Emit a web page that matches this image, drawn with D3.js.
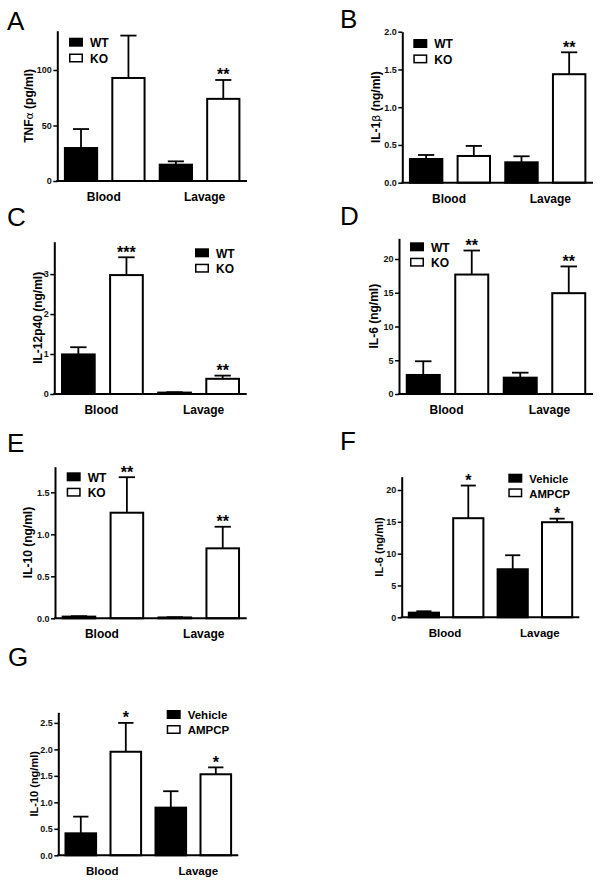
<!DOCTYPE html>
<html><head><meta charset="utf-8">
<script src="https://cdn.jsdelivr.net/npm/d3@7"></script>
<style>
body{margin:0;background:#fff;}
svg{display:block;font-family:"Liberation Sans",Arial,Helvetica,sans-serif;}
</style></head><body>
<svg id="c" width="602" height="885"></svg>
<script>
// ---------- data ----------
const groups = ["Blood", "Lavage"];
const genotypes = ["WT", "KO"];
const treatments = ["Vehicle", "AMPCP"];

// A: TNFα (pg/ml)
const tnfWT = [29.7, 14.7], tnfWTsem = [17.1, 3.0];
const tnfKO = [92.8, 74.0], tnfKOsem = [38.2, 17.0];
const tnfStars = ["", "**"];
const ticksA = [0, 50, 100];
const yMaxA = 135.4;

// B: IL-1β (ng/ml)
const il1WT = [0.314, 0.27], il1WTsem = [0.053, 0.08];
const il1KO = [0.354, 1.437], il1KOsem = [0.133, 0.29];
const il1Stars = ["", "**"];
const ticksB = [0, 0.5, 1.0, 1.5, 2.0];
const yMaxB = 2.0;

// C: IL-12p40 (ng/ml)
const il12WT = [0.99, 0.035], il12WTsem = [0.18, 0.01];
const il12KO = [2.975, 0.38], il12KOsem = [0.445, 0.08];
const il12Stars = ["***", "**"];
const ticksC = [0, 1, 2, 3];
const yMaxC = 3.81;

// D: IL-6 (ng/ml), WT vs KO
const il6WT = [2.82, 2.42], il6WTsem = [2.03, 0.74];
const il6KO = [17.7, 14.94], il6KOsem = [3.56, 3.96];
const il6Stars = ["**", "**"];
const ticksD = [0, 5, 10, 15, 20];
const yMaxD = 23.07;

// E: IL-10 (ng/ml), WT vs KO
const il10WT = [0.02, 0.01], il10WTsem = [0.005, 0.003];
const il10KO = [1.257, 0.833], il10KOsem = [0.423, 0.257];
const il10Stars = ["**", "**"];
const ticksE = [0, 0.5, 1.0, 1.5];
const yMaxE = 1.805;

// F: IL-6 (ng/ml), Vehicle vs AMPCP
const il6Veh = [0.73, 7.55], il6VehSem = [0.22, 2.2];
const il6Amp = [15.57, 14.94], il6AmpSem = [5.13, 0.56];
const il6AmpStars = ["*", "*"];
const ticksF = [0, 5, 10, 15, 20];
const yMaxF = 22.09;

// G: IL-10 (ng/ml), Vehicle vs AMPCP
const il10Veh = [0.415, 0.9], il10VehSem = [0.315, 0.31];
const il10Amp = [1.955, 1.53], il10AmpSem = [0.545, 0.13];
const il10AmpStars = ["*", "*"];
const ticksG = [0, 0.5, 1.0, 1.5, 2.0, 2.5];
const yMaxG = 2.70;

// ---------- panel tables built from the arrays ----------
const noStars = ["", ""];
const panels = [
  {letter:"A", label:["TNF","α"," (pg/ml)"], series:genotypes, means:[tnfWT,tnfKO], sems:[tnfWTsem,tnfKOsem], stars:[noStars,tnfStars], ticks:ticksA, yMax:yMaxA, fmt:d3.format("d")},
  {letter:"B", label:["IL-1","β"," (ng/ml)"], series:genotypes, means:[il1WT,il1KO], sems:[il1WTsem,il1KOsem], stars:[noStars,il1Stars], ticks:ticksB, yMax:yMaxB, fmt:d3.format(".1f")},
  {letter:"C", label:["IL-12p40 (ng/ml)"], series:genotypes, means:[il12WT,il12KO], sems:[il12WTsem,il12KOsem], stars:[noStars,il12Stars], ticks:ticksC, yMax:yMaxC, fmt:d3.format("d")},
  {letter:"D", label:["IL-6 (ng/ml)"], series:genotypes, means:[il6WT,il6KO], sems:[il6WTsem,il6KOsem], stars:[noStars,il6Stars], ticks:ticksD, yMax:yMaxD, fmt:d3.format("d")},
  {letter:"E", label:["IL-10 (ng/ml)"], series:genotypes, means:[il10WT,il10KO], sems:[il10WTsem,il10KOsem], stars:[noStars,il10Stars], ticks:ticksE, yMax:yMaxE, fmt:d3.format(".1f")},
  {letter:"F", label:["IL-6 (ng/ml)"], series:treatments, means:[il6Veh,il6Amp], sems:[il6VehSem,il6AmpSem], stars:[noStars,il6AmpStars], ticks:ticksF, yMax:yMaxF, fmt:d3.format("d")},
  {letter:"G", label:["IL-10 (ng/ml)"], series:treatments, means:[il10Veh,il10Amp], sems:[il10VehSem,il10AmpSem], stars:[noStars,il10AmpStars], ticks:ticksG, yMax:yMaxG, fmt:d3.format(".1f")}
];

// ---------- layout (positions / sizes) ----------
const layouts = [
  {x0:57.3, x1:247,   y0:30.7,  y1:181,   lx:7,   ly:30,  leg:[69,37.7],   legRow:15.8, legFont:12,   ylx:33.3, ylFont:12, xlFont:12},
  {x0:402.3,x1:593,   y0:31.7,  y1:182.7, lx:340, ly:27.5,leg:[413.3,39],  legRow:15.4, legFont:12,   ylx:380,  ylFont:12, xlFont:12},
  {x0:54.3, x1:246.7, y0:241.7, y1:394,   lx:7,   ly:226, leg:[195,248.3], legRow:15.4, legFont:12,   ylx:41.7, ylFont:12, xlFont:12},
  {x0:399,  x1:593,   y0:238.3, y1:394,   lx:340, ly:225, leg:[410,242.3], legRow:15.4, legFont:12,   ylx:378.3,ylFont:12, xlFont:12},
  {x0:55,   x1:246.7, y0:466.7, y1:618.3, lx:7,   ly:451.5,leg:[66.7,472.3],legRow:15.4,legFont:12,   ylx:31.7, ylFont:12, xlFont:12},
  {x0:401.7,x1:579.3, y0:476.7, y1:617.3, lx:340, ly:450, leg:[508.3,473.7],legRow:14.6,legFont:11.3, ylx:383,  ylFont:11, xlFont:11.5},
  {x0:58.3, x1:238.3, y0:712.3, y1:855.3, lx:8,   ly:666, leg:[166.7,710], legRow:15,   legFont:11.5, ylx:38.3, ylFont:11, xlFont:11.5}
];
const groupLabelDx = [-1, 5];

const svg = d3.select("#c");
const fills = ["#000", "#fff"];

function drawPanel(p, L) {
  const g = svg.append("g");
  const keys = [];
  groups.forEach((gr, i) => p.series.forEach((s, j) => keys.push(gr + "|" + s)));
  const x = d3.scaleBand().domain(keys).range([L.x0, L.x1]).paddingInner(0.32).paddingOuter(0.16);
  const y = d3.scaleLinear().domain([0, p.yMax]).range([L.y1, L.y0]);
  const bw = x.bandwidth();

  const rows = [];
  groups.forEach((gr, i) => p.series.forEach((s, j) => rows.push({
    key: gr + "|" + s, j, mean: p.means[j][i], sem: p.sems[j][i], star: p.stars[j][i]
  })));

  // error bars (upper only)
  const eb = g.append("g").attr("stroke", "#000").attr("stroke-width", 1.8);
  rows.forEach(r => {
    const cx = x(r.key) + bw / 2;
    eb.append("line").attr("x1", cx).attr("x2", cx).attr("y1", y(r.mean)).attr("y2", y(r.mean + r.sem));
    eb.append("line").attr("x1", cx - bw / 4).attr("x2", cx + bw / 4).attr("y1", y(r.mean + r.sem)).attr("y2", y(r.mean + r.sem));
  });

  // bars
  g.append("g").selectAll("rect").data(rows).join("rect")
    .attr("x", d => x(d.key)).attr("width", bw)
    .attr("y", d => y(d.mean)).attr("height", d => Math.max(0, y(0) - y(d.mean)))
    .attr("fill", d => fills[d.j]).attr("stroke", "#000").attr("stroke-width", 2);

  // stars
  g.append("g").selectAll("text").data(rows.filter(r => r.star)).join("text")
    .attr("x", d => x(d.key) + bw / 2).attr("y", d => y(d.mean + d.sem) + 0.5)
    .attr("text-anchor", "middle").attr("font-size", 16).attr("font-weight", "bold")
    .text(d => d.star);

  // y axis
  const ya = g.append("g").attr("transform", `translate(${L.x0},0)`)
    .call(d3.axisLeft(y).tickValues(p.ticks).tickFormat(p.fmt).tickSize(4).tickSizeOuter(0).tickPadding(1.5));
  ya.select(".domain").attr("stroke-width", 2);
  ya.selectAll(".tick line").attr("stroke-width", 1.5);
  ya.selectAll(".tick text").attr("font-size", 9).attr("font-weight", "bold").attr("fill", "#111")
    .attr("font-family", '"Liberation Sans",Arial,sans-serif');

  // x axis line
  g.append("line").attr("x1", L.x0 - 1).attr("x2", L.x1).attr("y1", L.y1).attr("y2", L.y1)
    .attr("stroke", "#000").attr("stroke-width", 2);

  // group labels
  groups.forEach((gr, i) => {
    const a = x(gr + "|" + p.series[0]), b = x(gr + "|" + p.series[1]) + bw;
    g.append("text").attr("x", (a + b) / 2 + groupLabelDx[i]).attr("y", L.y1 + 20)
      .attr("text-anchor", "middle").attr("font-size", L.xlFont).attr("font-weight", "bold").text(gr);
  });

  // y label
  const yl = g.append("text").attr("transform", `translate(${L.ylx},${(L.y0 + L.y1) / 2}) rotate(-90)`)
    .attr("text-anchor", "middle").attr("font-size", L.ylFont).attr("font-weight", "bold");
  p.label.forEach((t, k) => {
    const ts = yl.append("tspan").text(t);
    if (t === "α" || t === "β") ts.attr("font-weight", "normal").attr("font-family", '"DejaVu Sans",sans-serif').attr("font-size", L.ylFont - 1);
  });

  // legend
  const lg = g.append("g");
  p.series.forEach((s, j) => {
    const ty = L.leg[1] + j * L.legRow;
    lg.append("rect").attr("x", L.leg[0] + (j ? 0.75 : 0)).attr("y", ty + (j ? 0.75 : 0))
      .attr("width", 14 - (j ? 1.5 : 0)).attr("height", 9 - (j ? 1.5 : 0))
      .attr("fill", fills[j]).attr("stroke", "#000").attr("stroke-width", j ? 1.5 : 0);
    lg.append("text").attr("x", L.leg[0] + 21).attr("y", ty + 9.3)
      .attr("font-size", L.legFont).attr("font-weight", "bold").text(s);
  });

  // panel letter
  g.append("text").attr("x", L.lx).attr("y", L.ly).attr("font-size", 26).text(p.letter);
}

panels.forEach((p, i) => drawPanel(p, layouts[i]));
</script>
</body></html>
